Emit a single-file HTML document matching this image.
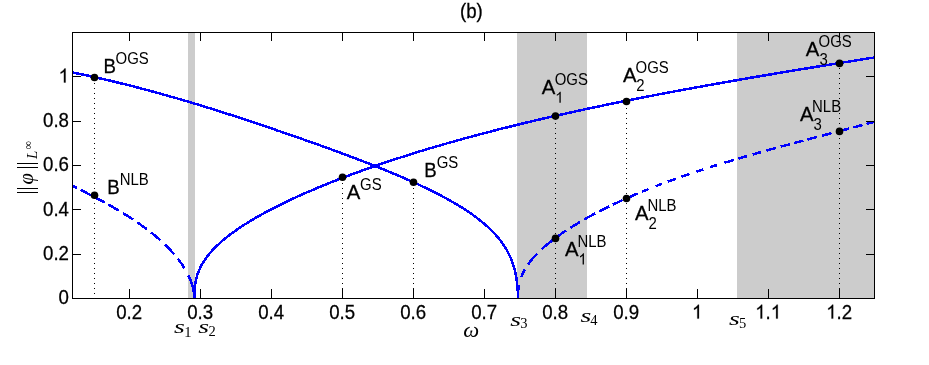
<!DOCTYPE html>
<html><head><meta charset="utf-8"><title>(b)</title>
<style>
html,body{margin:0;padding:0;background:#fff;}
body{width:929px;height:365px;overflow:hidden;font-family:"Liberation Sans",sans-serif;}
svg{display:block;}
</style></head><body>
<svg style="will-change:transform" width="929" height="365" viewBox="0 0 929 365">
<rect width="929" height="365" fill="#ffffff"/>
<g shape-rendering="crispEdges" fill="#cccccc">
<rect x="188" y="33" width="7" height="265"/>
<rect x="517" y="33" width="70" height="265"/>
<rect x="737" y="33" width="137" height="265"/>
</g>
<g stroke="#000" stroke-width="1" stroke-dasharray="1 4" shape-rendering="crispEdges">
<line x1="94.5" y1="299" x2="94.5" y2="77.5"/>
<line x1="342.5" y1="299" x2="342.5" y2="177.2"/>
<line x1="413.5" y1="299" x2="413.5" y2="182.2"/>
<line x1="555.5" y1="299" x2="555.5" y2="116.1"/>
<line x1="626.5" y1="299" x2="626.5" y2="101.5"/>
<line x1="839.5" y1="299" x2="839.5" y2="63.4"/>
</g>
<g fill="none" stroke="#0000ff" stroke-width="2.5" stroke-linejoin="round" shape-rendering="crispEdges">
<path d="M518.0 298.5 L518.0 297.3 L518.0 296.1 L517.9 294.8 L517.9 293.6 L517.9 292.4 L517.8 291.2 L517.7 290.0 L517.6 288.7 L517.5 287.5 L517.4 286.3 L517.3 285.1 L517.2 283.9 L517.0 282.7 L516.9 281.4 L516.7 280.2 L516.5 279.0 L516.3 277.8 L516.1 276.6 L515.9 275.3 L515.6 274.1 L515.4 272.9 L515.1 271.7 L514.8 270.5 L514.5 269.2 L514.2 268.0 L513.8 266.8 L513.4 265.6 L513.1 264.4 L512.6 263.1 L512.2 261.9 L511.8 260.7 L511.3 259.5 L510.8 258.3 L510.3 257.2 L509.8 256.1 L509.3 254.9 L508.7 253.8 L508.2 252.7 L507.6 251.6 L507.0 250.5 L506.3 249.4 L505.7 248.3 L505.0 247.2 L504.3 246.1 L503.6 245.0 L502.9 244.0 L502.2 243.0 L501.5 242.0 L500.7 241.0 L500.0 240.0 L499.2 239.0 L498.4 238.0 L497.5 237.0 L496.7 236.0 L495.8 235.0 L494.9 234.0 L494.1 233.1 L493.2 232.2 L492.4 231.3 L491.5 230.4 L490.6 229.6 L489.7 228.7 L488.7 227.8 L487.8 226.9 L486.8 226.0 L485.8 225.1 L484.8 224.2 L483.7 223.4 L482.8 222.6 L481.9 221.8 L480.9 221.0 L479.9 220.3 L479.0 219.5 L478.0 218.7 L476.9 217.9 L475.9 217.1 L474.9 216.4 L473.8 215.6 L472.7 214.8 L471.6 214.0 L470.5 213.3 L469.4 212.5 L468.2 211.7 L467.1 210.9 L466.1 210.3 L465.0 209.6 L464.0 208.9 L463.0 208.3 L461.9 207.6 L460.9 207.0 L459.8 206.3 L458.7 205.6 L457.6 205.0 L456.5 204.3 L455.4 203.6 L454.2 203.0 L453.1 202.3 L451.9 201.6 L450.8 201.0 L449.6 200.3 L448.4 199.6 L447.2 199.0 L446.0 198.3 L444.8 197.6 L443.5 197.0 L442.3 196.3 L441.0 195.6 L439.8 195.0 L438.7 194.4 L437.6 193.9 L436.5 193.3 L435.4 192.8 L434.4 192.2 L433.3 191.7 L432.1 191.1 L431.0 190.5 L429.9 190.0 L428.8 189.4 L427.6 188.9 L426.5 188.3 L425.3 187.8 L424.2 187.2 L423.0 186.7 L421.8 186.1 L420.7 185.6 L419.5 185.0 L418.3 184.5 L417.1 183.9 L415.9 183.3 L414.7 182.8 L413.4 182.2 L412.2 181.7 L411.0 181.1 L409.7 180.6 L408.5 180.0 L407.2 179.5 L406.0 178.9 L404.7 178.4 L403.4 177.8 L402.2 177.2 L400.9 176.7 L399.6 176.1 L398.3 175.6 L397.0 175.0 L395.7 174.5 L394.4 173.9 L393.0 173.4 L391.7 172.8 L390.4 172.3 L389.0 171.7 L387.7 171.2 L386.3 170.6 L385.0 170.0 L383.6 169.5 L382.3 168.9 L380.9 168.4 L379.5 167.8 L378.1 167.3 L376.8 166.7 L375.4 166.2 L374.2 165.7 L373.1 165.3 L372.0 164.8 L370.9 164.4 L369.7 163.9 L368.6 163.5 L367.5 163.1 L366.3 162.6 L365.2 162.2 L364.1 161.7 L362.9 161.3 L361.8 160.8 L360.6 160.4 L359.5 160.0 L358.3 159.5 L357.1 159.1 L356.0 158.6 L354.8 158.2 L353.6 157.7 L352.5 157.3 L351.3 156.9 L350.1 156.4 L348.9 156.0 L347.8 155.5 L346.6 155.1 L345.4 154.6 L344.2 154.2 L343.0 153.8 L341.8 153.3 L340.6 152.9 L339.4 152.4 L338.2 152.0 L337.0 151.5 L335.8 151.1 L334.6 150.6 L333.4 150.2 L332.2 149.8 L330.9 149.3 L329.7 148.9 L328.5 148.4 L327.3 148.0 L326.1 147.5 L324.8 147.1 L323.6 146.7 L322.4 146.2 L321.1 145.8 L319.9 145.3 L318.7 144.9 L317.4 144.4 L316.2 144.0 L314.9 143.6 L313.7 143.1 L312.5 142.7 L311.2 142.2 L310.0 141.8 L308.7 141.3 L307.5 140.9 L306.2 140.5 L304.9 140.0 L303.7 139.6 L302.4 139.1 L301.2 138.7 L299.9 138.2 L298.6 137.8 L297.4 137.3 L296.1 136.9 L294.8 136.5 L293.5 136.0 L292.3 135.6 L291.0 135.1 L289.7 134.7 L288.4 134.2 L287.1 133.8 L285.9 133.4 L284.6 132.9 L283.3 132.5 L282.0 132.0 L280.7 131.6 L279.4 131.1 L278.1 130.7 L276.8 130.3 L275.5 129.8 L274.2 129.4 L272.9 128.9 L271.6 128.5 L270.3 128.0 L269.0 127.6 L267.7 127.2 L266.4 126.7 L265.1 126.3 L263.7 125.8 L262.4 125.4 L261.1 124.9 L259.8 124.5 L258.5 124.0 L257.1 123.6 L255.8 123.2 L254.5 122.7 L253.1 122.3 L251.8 121.8 L250.5 121.4 L249.1 120.9 L247.8 120.5 L246.5 120.1 L245.1 119.6 L243.8 119.2 L242.4 118.7 L241.1 118.3 L239.7 117.8 L238.3 117.4 L237.0 117.0 L235.6 116.5 L234.3 116.1 L232.9 115.6 L231.5 115.2 L230.2 114.7 L228.8 114.3 L227.4 113.9 L226.0 113.4 L224.6 113.0 L223.2 112.5 L221.9 112.1 L220.5 111.6 L219.1 111.2 L217.7 110.7 L216.3 110.3 L214.9 109.9 L213.5 109.4 L212.0 109.0 L210.6 108.5 L209.2 108.1 L207.8 107.6 L206.4 107.2 L204.9 106.8 L203.5 106.3 L202.0 105.9 L200.6 105.4 L199.2 105.0 L197.7 104.5 L196.2 104.1 L194.8 103.7 L193.3 103.2 L191.9 102.8 L190.4 102.3 L188.9 101.9 L187.4 101.4 L185.9 101.0 L184.4 100.6 L182.9 100.1 L181.4 99.7 L179.9 99.2 L178.4 98.8 L176.9 98.3 L175.3 97.9 L173.8 97.4 L172.7 97.1 L171.5 96.8 L170.3 96.5 L169.2 96.1 L168.0 95.8 L166.8 95.5 L165.7 95.1 L164.5 94.8 L163.3 94.5 L162.1 94.1 L160.9 93.8 L159.7 93.5 L158.5 93.1 L157.3 92.8 L156.1 92.5 L154.9 92.1 L153.7 91.8 L152.4 91.5 L151.2 91.1 L150.0 90.8 L148.8 90.5 L147.5 90.1 L146.3 89.8 L145.0 89.5 L143.8 89.1 L142.5 88.8 L141.2 88.5 L140.0 88.1 L138.7 87.8 L137.4 87.5 L136.1 87.1 L134.8 86.8 L133.5 86.5 L132.2 86.1 L130.9 85.8 L129.6 85.5 L128.3 85.1 L127.0 84.8 L125.6 84.5 L124.3 84.1 L123.0 83.8 L121.6 83.5 L120.3 83.2 L118.9 82.8 L117.5 82.5 L116.1 82.2 L114.8 81.8 L113.4 81.5 L112.0 81.2 L110.6 80.8 L109.2 80.5 L107.7 80.2 L106.3 79.8 L104.9 79.5 L103.4 79.2 L102.0 78.8 L100.5 78.5 L99.1 78.2 L97.6 77.8 L96.1 77.5 L94.6 77.2 L93.1 76.8 L91.6 76.5 L90.1 76.2 L88.6 75.8 L87.1 75.5 L85.5 75.2 L84.0 74.8 L82.4 74.5 L80.9 74.2 L79.3 73.8 L77.7 73.5 L76.1 73.2 L74.5 72.8 L72.9 72.5 L72.5 72.4"/>
<path d="M194.4 298.5 L194.4 297.3 L194.4 296.1 L194.4 294.8 L194.5 293.6 L194.5 292.4 L194.6 291.2 L194.6 290.0 L194.7 288.7 L194.8 287.5 L194.9 286.3 L195.1 285.1 L195.3 283.9 L195.5 282.7 L195.7 281.4 L195.9 280.2 L196.2 279.0 L196.5 277.8 L196.9 276.6 L197.2 275.3 L197.6 274.1 L198.0 272.9 L198.5 271.7 L199.0 270.5 L199.5 269.4 L200.0 268.2 L200.5 267.1 L201.1 266.0 L201.7 264.9 L202.3 263.8 L203.0 262.7 L203.7 261.6 L204.4 260.5 L205.1 259.5 L205.8 258.5 L206.5 257.5 L207.2 256.5 L208.0 255.5 L208.8 254.5 L209.6 253.5 L210.5 252.5 L211.4 251.5 L212.3 250.5 L213.1 249.6 L213.9 248.7 L214.8 247.8 L215.7 247.0 L216.6 246.1 L217.5 245.2 L218.5 244.3 L219.4 243.4 L220.4 242.5 L221.4 241.6 L222.4 240.8 L223.5 239.9 L224.4 239.1 L225.4 238.3 L226.3 237.5 L227.3 236.8 L228.3 236.0 L229.3 235.2 L230.3 234.4 L231.4 233.7 L232.4 232.9 L233.5 232.1 L234.6 231.3 L235.7 230.6 L236.8 229.8 L237.9 229.0 L239.1 228.2 L240.2 227.5 L241.2 226.8 L242.2 226.1 L243.2 225.5 L244.3 224.8 L245.3 224.1 L246.4 223.5 L247.4 222.8 L248.5 222.1 L249.6 221.5 L250.7 220.8 L251.8 220.1 L252.9 219.5 L254.1 218.8 L255.2 218.1 L256.3 217.5 L257.5 216.8 L258.7 216.2 L259.9 215.5 L261.0 214.8 L262.2 214.2 L263.5 213.5 L264.7 212.8 L265.9 212.2 L267.1 211.5 L268.4 210.8 L269.7 210.2 L270.9 209.5 L272.0 208.9 L273.1 208.4 L274.1 207.8 L275.2 207.3 L276.3 206.7 L277.4 206.2 L278.5 205.6 L279.6 205.1 L280.7 204.5 L281.9 204.0 L283.0 203.4 L284.1 202.9 L285.3 202.3 L286.4 201.7 L287.6 201.2 L288.8 200.6 L289.9 200.1 L291.1 199.5 L292.3 199.0 L293.5 198.4 L294.7 197.9 L295.9 197.3 L297.1 196.8 L298.3 196.2 L299.6 195.6 L300.8 195.1 L302.0 194.5 L303.3 194.0 L304.5 193.4 L305.8 192.9 L307.1 192.3 L308.3 191.8 L309.6 191.2 L310.9 190.7 L312.2 190.1 L313.5 189.6 L314.8 189.0 L316.1 188.4 L317.4 187.9 L318.8 187.3 L320.1 186.8 L321.4 186.2 L322.8 185.7 L324.1 185.1 L325.5 184.6 L326.9 184.0 L328.2 183.5 L329.6 182.9 L331.0 182.3 L332.4 181.8 L333.5 181.3 L334.6 180.9 L335.8 180.5 L336.9 180.0 L338.0 179.6 L339.2 179.1 L340.3 178.7 L341.5 178.2 L342.6 177.8 L343.8 177.4 L345.0 176.9 L346.1 176.5 L347.3 176.0 L348.5 175.6 L349.7 175.1 L350.8 174.7 L352.0 174.3 L353.2 173.8 L354.4 173.4 L355.6 172.9 L356.8 172.5 L358.1 172.0 L359.3 171.6 L360.5 171.2 L361.7 170.7 L363.0 170.3 L364.2 169.8 L365.4 169.4 L366.7 168.9 L367.9 168.5 L369.2 168.0 L370.4 167.6 L371.7 167.2 L373.0 166.7 L374.3 166.3 L375.5 165.8 L376.8 165.4 L378.1 164.9 L379.4 164.5 L380.7 164.1 L382.0 163.6 L383.3 163.2 L384.6 162.7 L385.9 162.3 L387.3 161.8 L388.6 161.4 L389.9 161.0 L391.3 160.5 L392.6 160.1 L393.9 159.6 L395.3 159.2 L396.7 158.7 L398.0 158.3 L399.4 157.9 L400.8 157.4 L402.1 157.0 L403.5 156.5 L404.9 156.1 L406.3 155.6 L407.7 155.2 L409.1 154.7 L410.5 154.3 L411.9 153.9 L413.3 153.4 L414.8 153.0 L416.2 152.5 L417.6 152.1 L419.1 151.6 L420.5 151.2 L422.0 150.8 L423.4 150.3 L424.9 149.9 L426.4 149.4 L427.8 149.0 L429.3 148.5 L430.8 148.1 L432.3 147.7 L433.8 147.2 L435.3 146.8 L436.8 146.3 L438.3 145.9 L439.8 145.4 L441.4 145.0 L442.9 144.6 L444.4 144.1 L445.6 143.8 L446.7 143.4 L447.9 143.1 L449.1 142.8 L450.2 142.4 L451.4 142.1 L452.6 141.8 L453.8 141.4 L455.0 141.1 L456.1 140.8 L457.3 140.5 L458.5 140.1 L459.7 139.8 L460.9 139.5 L462.1 139.1 L463.3 138.8 L464.5 138.5 L465.7 138.1 L467.0 137.8 L468.2 137.5 L469.4 137.1 L470.6 136.8 L471.9 136.5 L473.1 136.1 L474.3 135.8 L475.6 135.5 L476.8 135.1 L478.1 134.8 L479.3 134.5 L480.6 134.1 L481.8 133.8 L483.1 133.5 L484.4 133.1 L485.6 132.8 L486.9 132.5 L488.2 132.1 L489.5 131.8 L490.7 131.5 L492.0 131.1 L493.3 130.8 L494.6 130.5 L495.9 130.1 L497.2 129.8 L498.5 129.5 L499.8 129.1 L501.2 128.8 L502.5 128.5 L503.8 128.1 L505.1 127.8 L506.4 127.5 L507.8 127.2 L509.1 126.8 L510.5 126.5 L511.8 126.2 L513.1 125.8 L514.5 125.5 L515.9 125.2 L517.2 124.8 L518.6 124.5 L519.9 124.2 L521.3 123.8 L522.7 123.5 L524.1 123.2 L525.4 122.8 L526.8 122.5 L528.2 122.2 L529.6 121.8 L531.0 121.5 L532.4 121.2 L533.8 120.8 L535.2 120.5 L536.6 120.2 L538.1 119.8 L539.5 119.5 L540.9 119.2 L542.3 118.8 L543.8 118.5 L545.2 118.2 L546.7 117.8 L548.1 117.5 L549.6 117.2 L551.0 116.8 L552.5 116.5 L553.9 116.2 L555.4 115.8 L556.9 115.5 L558.3 115.2 L559.8 114.8 L561.3 114.5 L562.8 114.2 L564.3 113.9 L565.8 113.5 L567.3 113.2 L568.8 112.9 L570.3 112.5 L571.8 112.2 L573.3 111.9 L574.8 111.5 L576.3 111.2 L577.9 110.9 L579.4 110.5 L580.9 110.2 L582.5 109.9 L584.0 109.5 L585.6 109.2 L587.1 108.9 L588.7 108.5 L590.2 108.2 L591.8 107.9 L593.4 107.5 L595.0 107.2 L596.5 106.9 L598.1 106.5 L599.7 106.2 L601.3 105.9 L602.9 105.5 L604.5 105.2 L606.1 104.9 L607.7 104.5 L609.3 104.2 L610.9 103.9 L612.5 103.5 L614.2 103.2 L615.8 102.9 L617.4 102.5 L619.1 102.2 L620.7 101.9 L622.3 101.5 L624.0 101.2 L625.6 100.9 L627.3 100.6 L629.0 100.2 L630.6 99.9 L632.3 99.6 L634.0 99.2 L635.7 98.9 L637.3 98.6 L639.0 98.2 L640.7 97.9 L642.4 97.6 L644.1 97.2 L645.8 96.9 L647.5 96.6 L649.2 96.2 L651.0 95.9 L652.7 95.6 L654.4 95.2 L656.1 94.9 L657.9 94.6 L659.6 94.2 L661.4 93.9 L663.1 93.6 L664.8 93.2 L666.6 92.9 L668.4 92.6 L670.1 92.2 L671.9 91.9 L673.1 91.7 L674.3 91.5 L675.4 91.2 L676.6 91.0 L677.8 90.8 L679.0 90.6 L680.2 90.4 L681.4 90.1 L682.6 89.9 L683.8 89.7 L685.0 89.5 L686.2 89.2 L687.4 89.0 L688.6 88.8 L689.8 88.6 L691.0 88.4 L692.2 88.1 L693.4 87.9 L694.6 87.7 L695.8 87.5 L697.1 87.3 L698.3 87.0 L699.5 86.8 L700.7 86.6 L701.9 86.4 L703.2 86.1 L704.4 85.9 L705.6 85.7 L706.9 85.5 L708.1 85.3 L709.3 85.0 L710.6 84.8 L711.8 84.6 L713.0 84.4 L714.3 84.1 L715.5 83.9 L716.8 83.7 L718.0 83.5 L719.3 83.3 L720.5 83.0 L721.8 82.8 L723.0 82.6 L724.3 82.4 L725.5 82.2 L726.8 81.9 L728.0 81.7 L729.3 81.5 L730.6 81.3 L731.8 81.0 L733.1 80.8 L734.4 80.6 L735.6 80.4 L736.9 80.2 L738.2 79.9 L739.5 79.7 L740.7 79.5 L742.0 79.3 L743.3 79.0 L744.6 78.8 L745.9 78.6 L747.1 78.4 L748.4 78.2 L749.7 77.9 L751.0 77.7 L752.3 77.5 L753.6 77.3 L754.9 77.1 L756.2 76.8 L757.5 76.6 L758.8 76.4 L760.1 76.2 L761.4 75.9 L762.7 75.7 L764.0 75.5 L765.3 75.3 L766.6 75.1 L767.9 74.8 L769.2 74.6 L770.5 74.4 L771.9 74.2 L773.2 74.0 L774.5 73.7 L775.8 73.5 L777.1 73.3 L778.4 73.1 L779.8 72.8 L781.1 72.6 L782.4 72.4 L783.7 72.2 L785.1 72.0 L786.4 71.7 L787.7 71.5 L789.1 71.3 L790.4 71.1 L791.7 70.8 L793.1 70.6 L794.4 70.4 L795.7 70.2 L797.1 70.0 L798.4 69.7 L799.8 69.5 L801.1 69.3 L802.5 69.1 L803.8 68.9 L805.2 68.6 L806.5 68.4 L807.9 68.2 L809.2 68.0 L810.6 67.7 L811.9 67.5 L813.3 67.3 L814.6 67.1 L816.0 66.9 L817.3 66.6 L818.7 66.4 L820.1 66.2 L821.4 66.0 L822.8 65.7 L824.2 65.5 L825.5 65.3 L826.9 65.1 L828.3 64.9 L829.6 64.6 L831.0 64.4 L832.4 64.2 L833.7 64.0 L835.1 63.8 L836.5 63.5 L837.9 63.3 L839.2 63.1 L840.6 62.9 L842.0 62.6 L843.4 62.4 L844.8 62.2 L846.1 62.0 L847.5 61.8 L848.9 61.5 L850.3 61.3 L851.7 61.1 L853.1 60.9 L854.4 60.7 L855.8 60.4 L857.2 60.2 L858.6 60.0 L860.0 59.8 L861.4 59.5 L862.8 59.3 L864.2 59.1 L865.6 58.9 L867.0 58.7 L868.4 58.4 L869.7 58.2 L871.1 58.0 L872.5 57.8 L873.9 57.5 L874.5 57.5"/>
<path d="M194.2 298.5 L194.2 297.3 L194.1 296.1 L194.0 294.8 L193.9 293.6 L193.8 292.4 L193.6 291.2 L193.3 290.0 L193.1 288.7 L192.8 287.5 L192.5 286.3 L192.1 285.1 L191.8 283.9 L191.4 282.7 L190.9 281.4 L190.5 280.2 L190.0 279.0 L189.5 277.9 L189.0 276.8 L188.5 275.7 L187.9 274.6 L187.4 273.5 L186.8 272.3 L186.2 271.2 L185.6 270.1 L184.9 269.0 L184.2 267.9 L183.5 266.8 L182.8 265.7 L182.1 264.6 L181.4 263.6 L180.7 262.6 L180.0 261.6 L179.3 260.6 L178.5 259.6 L177.7 258.6 L176.9 257.6 L176.1 256.6 L175.3 255.6 L174.5 254.6 L173.6 253.6 L172.7 252.6 L171.8 251.6 L171.0 250.7 L170.2 249.8 L169.4 249.0 L168.5 248.1 L167.6 247.2 L166.7 246.3 L165.8 245.4 L164.9 244.5 L164.0 243.6 L163.1 242.8 L162.1 241.9 L161.1 241.0 L160.2 240.1 L159.1 239.2 L158.1 238.3 L157.1 237.4 L156.1 236.5 L155.1 235.8 L154.2 235.0 L153.2 234.2 L152.3 233.4 L151.3 232.7 L150.3 231.9 L149.3 231.1 L148.3 230.3 L147.3 229.6 L146.3 228.8 L145.2 228.0 L144.2 227.2 L143.1 226.5 L142.0 225.7 L140.9 224.9 L139.8 224.1 L138.7 223.4 L137.6 222.6 L136.5 221.8 L135.3 221.0 L134.2 220.3 L133.2 219.6 L132.2 218.9 L131.1 218.3 L130.1 217.6 L129.1 216.9 L128.0 216.3 L127.0 215.6 L125.9 214.9 L124.8 214.3 L123.8 213.6 L122.7 212.9 L121.6 212.3 L120.5 211.6 L119.4 210.9 L118.3 210.3 L117.1 209.6 L116.0 208.9 L114.9 208.3 L113.7 207.6 L112.6 207.0 L111.4 206.3 L110.2 205.6 L109.1 205.0 L107.9 204.3 L106.7 203.6 L105.5 203.0 L104.3 202.3 L103.1 201.6 L101.8 201.0 L100.6 200.3 L99.4 199.6 L98.1 199.0 L96.9 198.3 L95.6 197.6 L94.4 197.0 L93.1 196.3 L91.8 195.6 L90.8 195.1 L89.7 194.5 L88.6 194.0 L87.5 193.4 L86.5 192.9 L85.4 192.3 L84.3 191.8 L83.2 191.2 L82.1 190.7 L81.0 190.1 L79.9 189.6 L78.8 189.0 L77.7 188.4 L76.6 187.9 L75.4 187.3 L74.3 186.8 L73.2 186.2 L72.5 185.9" stroke-dasharray="0.0 0.0 24.3 8.1 11.2 6.2 13.0 6.2 12.4 5.3 11.8 5.2 12.0 4.9 11.8 4.3 11.5 3.8 11.9 4.2 4.8 999"/>
<path d="M517.9 298.5 L517.9 297.3 L517.9 296.1 L518.0 294.8 L518.0 293.6 L518.1 292.4 L518.2 291.2 L518.3 290.0 L518.4 288.7 L518.6 287.5 L518.8 286.3 L519.0 285.1 L519.2 283.9 L519.5 282.7 L519.8 281.4 L520.2 280.2 L520.6 279.0 L521.0 277.8 L521.5 276.6 L522.0 275.3 L522.4 274.2 L522.9 273.1 L523.5 272.0 L524.1 270.9 L524.7 269.8 L525.3 268.7 L526.0 267.6 L526.7 266.5 L527.4 265.4 L528.1 264.4 L528.8 263.4 L529.6 262.4 L530.3 261.4 L531.1 260.4 L531.9 259.4 L532.8 258.4 L533.7 257.4 L534.6 256.4 L535.4 255.5 L536.2 254.6 L537.1 253.7 L537.9 252.8 L538.8 251.9 L539.8 251.1 L540.7 250.2 L541.6 249.3 L542.6 248.4 L543.6 247.5 L544.6 246.6 L545.6 245.7 L546.6 245.0 L547.5 244.2 L548.4 243.4 L549.4 242.6 L550.4 241.9 L551.4 241.1 L552.4 240.3 L553.4 239.5 L554.4 238.8 L555.4 238.0 L556.5 237.2 L557.6 236.4 L558.7 235.7 L559.8 234.9 L560.9 234.1 L562.0 233.3 L563.1 232.6 L564.3 231.8 L565.4 231.0 L566.4 230.3 L567.5 229.7 L568.5 229.0 L569.5 228.3 L570.6 227.7 L571.6 227.0 L572.7 226.3 L573.8 225.7 L574.9 225.0 L576.0 224.4 L577.1 223.7 L578.2 223.0 L579.3 222.4 L580.4 221.7 L581.6 221.0 L582.7 220.4 L583.9 219.7 L585.1 219.0 L586.2 218.4 L587.4 217.7 L588.6 217.0 L589.8 216.4 L591.1 215.7 L592.3 215.0 L593.5 214.4 L594.8 213.7 L596.0 213.0 L597.3 212.4 L598.4 211.8 L599.5 211.3 L600.5 210.7 L601.6 210.2 L602.7 209.6 L603.8 209.1 L604.9 208.5 L606.0 207.9 L607.2 207.4 L608.3 206.8 L609.4 206.3 L610.6 205.7 L611.7 205.2 L612.9 204.6 L614.1 204.1 L615.2 203.5 L616.4 203.0 L617.6 202.4 L618.8 201.9 L620.0 201.3 L621.2 200.7 L622.4 200.2 L623.7 199.6 L624.9 199.1 L626.1 198.5 L627.4 198.0 L628.6 197.4 L629.9 196.9 L631.2 196.3 L632.5 195.8 L633.8 195.2 L635.0 194.6 L636.4 194.1 L637.7 193.5 L639.0 193.0 L640.3 192.4 L641.7 191.9 L643.0 191.3 L644.4 190.8 L645.7 190.2 L647.1 189.7 L648.5 189.1 L649.9 188.6 L651.0 188.1 L652.1 187.7 L653.2 187.2 L654.4 186.8 L655.5 186.3 L656.6 185.9 L657.8 185.4 L658.9 185.0 L660.1 184.6 L661.3 184.1 L662.4 183.7 L663.6 183.2 L664.8 182.8 L666.0 182.3 L667.2 181.9 L668.4 181.5 L669.6 181.0 L670.8 180.6 L672.0 180.1 L673.3 179.7 L674.5 179.2 L675.7 178.8 L677.0 178.4 L678.2 177.9 L679.5 177.5 L680.7 177.0 L682.0 176.6 L683.3 176.1 L684.5 175.7 L685.8 175.3 L687.1 174.8 L688.4 174.4 L689.7 173.9 L691.0 173.5 L692.3 173.0 L693.6 172.6 L695.0 172.1 L696.3 171.7 L697.6 171.3 L699.0 170.8 L700.3 170.4 L701.7 169.9 L703.0 169.5 L704.4 169.0 L705.8 168.6 L707.2 168.2 L708.5 167.7 L709.9 167.3 L711.3 166.8 L712.7 166.4 L714.1 165.9 L715.6 165.5 L717.0 165.1 L718.4 164.6 L719.8 164.2 L721.3 163.7 L722.7 163.3 L724.2 162.8 L725.6 162.4 L727.1 162.0 L728.5 161.5 L730.0 161.1 L731.5 160.6 L733.0 160.2 L734.5 159.7 L736.0 159.3 L737.5 158.8 L739.0 158.4 L740.5 158.0 L742.0 157.5 L743.5 157.1 L745.1 156.6 L746.6 156.2 L747.7 155.9 L748.9 155.5 L750.1 155.2 L751.2 154.9 L752.4 154.5 L753.6 154.2 L754.7 153.9 L755.9 153.5 L757.1 153.2 L758.2 152.9 L759.4 152.5 L760.6 152.2 L761.8 151.9 L763.0 151.5 L764.2 151.2 L765.4 150.9 L766.6 150.5 L767.8 150.2 L769.0 149.9 L770.2 149.5 L771.4 149.2 L772.6 148.9 L773.8 148.5 L775.0 148.2 L776.2 147.9 L777.5 147.5 L778.7 147.2 L779.9 146.9 L781.1 146.5 L782.4 146.2 L783.6 145.9 L784.8 145.5 L786.1 145.2 L787.3 144.9 L788.5 144.6 L789.8 144.2 L791.0 143.9 L792.3 143.6 L793.5 143.2 L794.7 142.9 L796.0 142.6 L797.2 142.2 L798.5 141.9 L799.7 141.6 L801.0 141.2 L802.2 140.9 L803.5 140.6 L804.8 140.2 L806.0 139.9 L807.3 139.6 L808.5 139.2 L809.8 138.9 L811.1 138.6 L812.3 138.2 L813.6 137.9 L814.9 137.6 L816.1 137.2 L817.4 136.9 L818.7 136.6 L819.9 136.2 L821.2 135.9 L822.5 135.6 L823.7 135.2 L825.0 134.9 L826.3 134.6 L827.5 134.2 L828.8 133.9 L830.1 133.6 L831.3 133.2 L832.6 132.9 L833.9 132.6 L835.1 132.2 L836.4 131.9 L837.6 131.6 L838.9 131.3 L840.2 130.9 L841.4 130.6 L842.7 130.3 L844.0 129.9 L845.2 129.6 L846.5 129.3 L847.7 128.9 L849.0 128.6 L850.2 128.3 L851.5 127.9 L852.7 127.6 L854.0 127.3 L855.2 126.9 L856.5 126.6 L857.7 126.3 L858.9 125.9 L860.2 125.6 L861.4 125.3 L862.6 124.9 L863.9 124.6 L865.1 124.3 L866.3 123.9 L867.5 123.6 L868.7 123.3 L869.9 122.9 L871.1 122.6 L872.3 122.3 L873.5 121.9 L874.5 121.7" stroke-dasharray="0.0 0.0 13.6 8.3 8.5 5.9 13.9 6.7 18.3 1.9 10.2 5.5 11.1 4.9 12.5 4.6 10.9 4.3 10.8 4.6 11.7 4.6 7.1 7.6 7.1 6.0 8.8 5.6 8.8 7.3 7.1 7.2 7.0 7.9 10.0 4.7 9.1 5.6 9.0 5.4 9.6 5.1 9.8 4.3 9.5 4.3 10.0 4.8 10.0 4.4 13.9 4.3 9.4 4.2 8.1 999"/>
</g>
<g stroke="#000" stroke-width="1" fill="none" shape-rendering="crispEdges">
<rect x="72.5" y="32.5" width="802" height="266"/>
<line x1="129.5" y1="298" x2="129.5" y2="289"/>
<line x1="129.5" y1="33" x2="129.5" y2="41"/>
<line x1="200.5" y1="298" x2="200.5" y2="289"/>
<line x1="200.5" y1="33" x2="200.5" y2="41"/>
<line x1="271.5" y1="298" x2="271.5" y2="289"/>
<line x1="271.5" y1="33" x2="271.5" y2="41"/>
<line x1="342.5" y1="298" x2="342.5" y2="289"/>
<line x1="342.5" y1="33" x2="342.5" y2="41"/>
<line x1="413.5" y1="298" x2="413.5" y2="289"/>
<line x1="413.5" y1="33" x2="413.5" y2="41"/>
<line x1="484.5" y1="298" x2="484.5" y2="289"/>
<line x1="484.5" y1="33" x2="484.5" y2="41"/>
<line x1="555.5" y1="298" x2="555.5" y2="289"/>
<line x1="555.5" y1="33" x2="555.5" y2="41"/>
<line x1="626.5" y1="298" x2="626.5" y2="289"/>
<line x1="626.5" y1="33" x2="626.5" y2="41"/>
<line x1="697.5" y1="298" x2="697.5" y2="289"/>
<line x1="697.5" y1="33" x2="697.5" y2="41"/>
<line x1="768.5" y1="298" x2="768.5" y2="289"/>
<line x1="768.5" y1="33" x2="768.5" y2="41"/>
<line x1="839.5" y1="298" x2="839.5" y2="289"/>
<line x1="839.5" y1="33" x2="839.5" y2="41"/>
<line x1="73" y1="254.5" x2="81" y2="254.5"/>
<line x1="874" y1="254.5" x2="866" y2="254.5"/>
<line x1="73" y1="209.5" x2="81" y2="209.5"/>
<line x1="874" y1="209.5" x2="866" y2="209.5"/>
<line x1="73" y1="165.5" x2="81" y2="165.5"/>
<line x1="874" y1="165.5" x2="866" y2="165.5"/>
<line x1="73" y1="121.5" x2="81" y2="121.5"/>
<line x1="874" y1="121.5" x2="866" y2="121.5"/>
<line x1="73" y1="76.5" x2="81" y2="76.5"/>
<line x1="874" y1="76.5" x2="866" y2="76.5"/>
</g>
<g fill="#000">
<circle cx="94.5" cy="77.5" r="3.8"/>
<circle cx="94.5" cy="195.3" r="3.8"/>
<circle cx="342.5" cy="177.2" r="3.8"/>
<circle cx="413.5" cy="182.2" r="3.8"/>
<circle cx="555.5" cy="116.1" r="3.8"/>
<circle cx="555.5" cy="238.4" r="3.8"/>
<circle cx="626.5" cy="101.5" r="3.8"/>
<circle cx="626.5" cy="198.5" r="3.8"/>
<circle cx="839.5" cy="63.4" r="3.8"/>
<circle cx="839.5" cy="131.4" r="3.8"/>
</g>
<g font-family="Liberation Sans, sans-serif" font-size="18.67" fill="#000" stroke="#000" stroke-width="0.25">
<text transform="translate(116.22,318.60) scale(1,1.070)" font-size="18.67">0</text><text transform="translate(126.61,318.60) scale(1,1.070)" font-size="18.67">.</text><text transform="translate(131.79,318.60) scale(1,1.070)" font-size="18.67">2</text>
<text transform="translate(187.22,318.60) scale(1,1.070)" font-size="18.67">0</text><text transform="translate(197.61,318.60) scale(1,1.070)" font-size="18.67">.</text><text transform="translate(202.79,318.60) scale(1,1.070)" font-size="18.67">3</text>
<text transform="translate(258.22,318.60) scale(1,1.070)" font-size="18.67">0</text><text transform="translate(268.61,318.60) scale(1,1.070)" font-size="18.67">.</text><text transform="translate(273.79,318.60) scale(1,1.070)" font-size="18.67">4</text>
<text transform="translate(329.22,318.60) scale(1,1.070)" font-size="18.67">0</text><text transform="translate(339.61,318.60) scale(1,1.070)" font-size="18.67">.</text><text transform="translate(344.79,318.60) scale(1,1.070)" font-size="18.67">5</text>
<text transform="translate(400.22,318.60) scale(1,1.070)" font-size="18.67">0</text><text transform="translate(410.61,318.60) scale(1,1.070)" font-size="18.67">.</text><text transform="translate(415.79,318.60) scale(1,1.070)" font-size="18.67">6</text>
<text transform="translate(471.22,318.60) scale(1,1.070)" font-size="18.67">0</text><text transform="translate(481.61,318.60) scale(1,1.070)" font-size="18.67">.</text><text transform="translate(486.79,318.60) scale(1,1.070)" font-size="18.67">7</text>
<text transform="translate(542.22,318.60) scale(1,1.070)" font-size="18.67">0</text><text transform="translate(552.61,318.60) scale(1,1.070)" font-size="18.67">.</text><text transform="translate(557.79,318.60) scale(1,1.070)" font-size="18.67">8</text>
<text transform="translate(613.22,318.60) scale(1,1.070)" font-size="18.67">0</text><text transform="translate(623.61,318.60) scale(1,1.070)" font-size="18.67">.</text><text transform="translate(628.79,318.60) scale(1,1.070)" font-size="18.67">9</text>
<path transform="translate(692.01,318.60) scale(0.009116,-0.009481)" d="M763 0H583V1147Q518 1085 412.5 1023T223 930V1104Q373 1174.5 485.5 1275T647 1470H763Z" stroke-width="27.4"/>
<path transform="translate(755.22,318.60) scale(0.009116,-0.009481)" d="M763 0H583V1147Q518 1085 412.5 1023T223 930V1104Q373 1174.5 485.5 1275T647 1470H763Z" stroke-width="27.4"/><text transform="translate(765.61,318.60) scale(1,1.070)" font-size="18.67">.</text><path transform="translate(770.79,318.60) scale(0.009116,-0.009481)" d="M763 0H583V1147Q518 1085 412.5 1023T223 930V1104Q373 1174.5 485.5 1275T647 1470H763Z" stroke-width="27.4"/>
<path transform="translate(826.22,318.60) scale(0.009116,-0.009481)" d="M763 0H583V1147Q518 1085 412.5 1023T223 930V1104Q373 1174.5 485.5 1275T647 1470H763Z" stroke-width="27.4"/><text transform="translate(836.61,318.60) scale(1,1.070)" font-size="18.67">.</text><text transform="translate(841.79,318.60) scale(1,1.070)" font-size="18.67">2</text>
<text transform="translate(58.62,304.20) scale(1,1.070)" font-size="18.67">0</text>
<text transform="translate(43.05,259.87) scale(1,1.070)" font-size="18.67">0</text><text transform="translate(53.43,259.87) scale(1,1.070)" font-size="18.67">.</text><text transform="translate(58.62,259.87) scale(1,1.070)" font-size="18.67">2</text>
<text transform="translate(43.05,215.53) scale(1,1.070)" font-size="18.67">0</text><text transform="translate(53.43,215.53) scale(1,1.070)" font-size="18.67">.</text><text transform="translate(58.62,215.53) scale(1,1.070)" font-size="18.67">4</text>
<text transform="translate(43.05,171.20) scale(1,1.070)" font-size="18.67">0</text><text transform="translate(53.43,171.20) scale(1,1.070)" font-size="18.67">.</text><text transform="translate(58.62,171.20) scale(1,1.070)" font-size="18.67">6</text>
<text transform="translate(43.05,126.87) scale(1,1.070)" font-size="18.67">0</text><text transform="translate(53.43,126.87) scale(1,1.070)" font-size="18.67">.</text><text transform="translate(58.62,126.87) scale(1,1.070)" font-size="18.67">8</text>
<path transform="translate(58.62,82.53) scale(0.009116,-0.009481)" d="M763 0H583V1147Q518 1085 412.5 1023T223 930V1104Q373 1174.5 485.5 1275T647 1470H763Z" stroke-width="27.4"/>
<text transform="translate(471.4,17.8) scale(1,1.070)" text-anchor="middle">(b)</text>
<text transform="translate(103.43,72.90) scale(1,1.070)">B</text>
<text transform="translate(115.58,63.80) scale(1,1.070)" font-size="14.93" stroke="none">OGS</text>
<text transform="translate(107.33,194.00) scale(1,1.070)">B</text>
<text transform="translate(119.66,185.00) scale(1,1.070)" font-size="14.93" stroke="none">NLB</text>
<text transform="translate(346.80,199.00) scale(1.09,1.070)">A</text>
<text transform="translate(360.05,190.00) scale(1,1.070)" font-size="14.93" stroke="none">GS</text>
<text transform="translate(424.33,177.00) scale(1,1.070)">B</text>
<text transform="translate(436.75,168.00) scale(1,1.070)" font-size="14.93" stroke="none">GS</text>
<text transform="translate(541.80,94.00) scale(1.09,1.070)">A</text>
<text transform="translate(554.68,85.00) scale(1,1.070)" font-size="14.93" stroke="none">OGS</text>
<path transform="translate(555.17,102.80) scale(0.007290,-0.007582)" d="M763 0H583V1147Q518 1085 412.5 1023T223 930V1104Q373 1174.5 485.5 1275T647 1470H763Z" stroke-width="0.0"/>
<text transform="translate(564.90,255.70) scale(1.09,1.070)">A</text>
<text transform="translate(577.46,246.70) scale(1,1.070)" font-size="14.93" stroke="none">NLB</text>
<path transform="translate(578.37,264.50) scale(0.007290,-0.007582)" d="M763 0H583V1147Q518 1085 412.5 1023T223 930V1104Q373 1174.5 485.5 1275T647 1470H763Z" stroke-width="0.0"/>
<text transform="translate(622.90,81.80) scale(1.09,1.070)">A</text>
<text transform="translate(635.58,72.70) scale(1,1.070)" font-size="14.93" stroke="none">OGS</text>
<text transform="translate(636.25,91.00) scale(1,1.070)" font-size="14.93" stroke="none">2</text>
<text transform="translate(634.90,219.70) scale(1.09,1.070)">A</text>
<text transform="translate(647.46,210.70) scale(1,1.070)" font-size="14.93" stroke="none">NLB</text>
<text transform="translate(648.55,228.80) scale(1,1.070)" font-size="14.93" stroke="none">2</text>
<text transform="translate(805.70,55.80) scale(1.09,1.070)">A</text>
<text transform="translate(818.58,46.80) scale(1,1.070)" font-size="14.93" stroke="none">OGS</text>
<text transform="translate(819.40,64.50) scale(1,1.070)" font-size="14.93" stroke="none">3</text>
<text transform="translate(799.90,120.80) scale(1.09,1.070)">A</text>
<text transform="translate(812.06,112.00) scale(1,1.070)" font-size="14.93" stroke="none">NLB</text>
<text transform="translate(813.50,129.80) scale(1,1.070)" font-size="14.93" stroke="none">3</text>
</g>
<g font-family="Liberation Serif, serif" fill="#000">
<text transform="translate(174.10,333.00) scale(1.42,1)" font-size="19.5" font-style="italic">s</text>
<text x="184.20" y="336.50" font-size="14.5">1</text>
<text transform="translate(198.20,332.80) scale(1.42,1)" font-size="19.5" font-style="italic">s</text>
<text x="208.60" y="336.30" font-size="14.5">2</text>
<text transform="translate(510.30,325.50) scale(1.42,1)" font-size="19.5" font-style="italic">s</text>
<text x="520.20" y="328.40" font-size="14.5">3</text>
<text transform="translate(580.40,321.50) scale(1.42,1)" font-size="19.5" font-style="italic">s</text>
<text x="590.20" y="325.00" font-size="14.5">4</text>
<text transform="translate(729.10,325.00) scale(1.42,1)" font-size="19.5" font-style="italic">s</text>
<text x="739.00" y="327.70" font-size="14.5">5</text>
<text transform="translate(463.3,337.4) scale(1.1,1)" font-size="20.5" font-style="italic">ω</text>
<g transform="translate(33,192.5) rotate(-90)">
<g stroke="#000" stroke-width="1" shape-rendering="crispEdges">
<line x1="0" y1="-16" x2="0" y2="5"/>
<line x1="4" y1="-16" x2="4" y2="5"/>
<line x1="25" y1="-16" x2="25" y2="5"/>
<line x1="29" y1="-16" x2="29" y2="5"/>
</g>
<text x="8" y="0" font-size="20.5" font-style="italic">φ</text>
<text x="33.5" y="3.7" font-size="15" font-style="italic">L</text>
<text x="43" y="-1.2" font-size="12">∞</text>
</g>
</g>
</svg>
</body></html>
